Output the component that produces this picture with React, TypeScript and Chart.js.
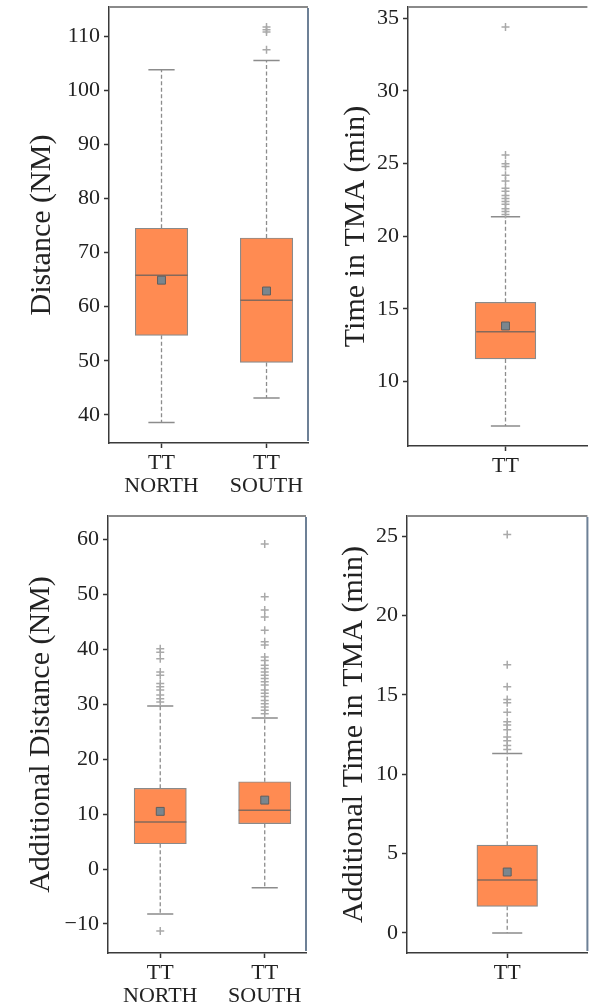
import React, { useEffect, useRef } from "react";
import { Chart, registerables } from "chart.js";

Chart.register(...registerables);

// ---------- Panel 1: Distance (NM) ----------
const distCategories = [["TT", "NORTH"], ["TT", "SOUTH"]];
const distPositions = [1, 2];
const distQ1 = [54.7, 49.7];
const distMedian = [65.8, 61.2];
const distQ3 = [74.5, 72.7];
const distLowWhisker = [38.6, 43.1];
const distHighWhisker = [103.8, 105.5];
const distMean = [64.9, 62.9];
const distOutliersNorth: number[] = [];
const distOutliersSouth = [107.5, 110.8, 111.2, 111.7];
const distTicks = [40, 50, 60, 70, 80, 90, 100, 110];

// ---------- Panel 2: Time in TMA (min) ----------
const timeCategories = [["TT"]];
const timePositions = [1];
const timeQ1 = [11.56];
const timeMedian = [13.44];
const timeQ3 = [15.46];
const timeLowWhisker = [6.95];
const timeHighWhisker = [21.35];
const timeMean = [13.83];
const timeOutliers = [21.5, 21.7, 21.9, 22.2, 22.4, 22.6, 22.8, 23.1, 23.3, 23.8, 24.2, 24.8, 25.0, 25.6, 34.4];
const timeTicks = [10, 15, 20, 25, 30, 35];

// ---------- Panel 3: Additional Distance (NM) ----------
const addDistCategories = [["TT", "NORTH"], ["TT", "SOUTH"]];
const addDistPositions = [1, 2];
const addDistQ1 = [4.6, 8.25];
const addDistMedian = [8.55, 10.7];
const addDistQ3 = [14.7, 15.9];
const addDistLowWhisker = [-8.2, -3.4];
const addDistHighWhisker = [29.7, 27.5];
const addDistMean = [10.5, 12.55];
const addDistOutliersNorth = [-11.3, 30.4, 31.0, 31.7, 32.6, 33.2, 33.8, 35.3, 35.9, 38.3, 39.5, 40.1];
const addDistOutliersSouth = [28.3, 28.9, 29.5, 30.1, 30.7, 31.4, 32.0, 32.6, 33.5, 34.1, 34.7, 35.3, 35.9, 36.5, 37.1, 38.0, 38.6, 40.8, 41.4, 43.5, 45.9, 47.2, 49.6, 59.2];
const addDistTicks = [-10, 0, 10, 20, 30, 40, 50, 60];

// ---------- Panel 4: Additional Time in TMA (min) ----------
const addTimeCategories = [["TT"]];
const addTimePositions = [1];
const addTimeQ1 = [1.68];
const addTimeMedian = [3.34];
const addTimeQ3 = [5.53];
const addTimeLowWhisker = [0];
const addTimeHighWhisker = [11.3];
const addTimeMean = [3.84];
const addTimeOutliers = [11.55, 11.8, 12.1, 12.35, 12.8, 13.1, 13.3, 13.9, 14.5, 14.7, 15.5, 16.9, 25.1];
const addTimeTicks = [0, 5, 10, 15, 20, 25];

const FONT = "'Liberation Serif', 'DejaVu Serif', serif";

type PanelCfg = {
  left: number; top: number; width: number; height: number;
  axisLeft: number; padTop: number; padRight: number; axisBottom: number;
  titlePad: number; title: string;
  categories: string[][]; positions: number[];
  q1: number[]; med: number[]; q3: number[]; lo: number[]; hi: number[]; mean: number[];
  outliers: number[][];
  yMin: number; yMax: number; yTicks: number[];
  xMin: number; xMax: number; boxWidth: number; drawRight: boolean;
};

const panels: PanelCfg[] = [
  {
    left: 0, top: 0, width: 320, height: 500,
    axisLeft: 109, padTop: 7, padRight: 12, axisBottom: 57,
    titlePad: 24.5, title: "Distance (NM)",
    categories: distCategories, positions: distPositions,
    q1: distQ1, med: distMedian, q3: distQ3, lo: distLowWhisker, hi: distHighWhisker, mean: distMean,
    outliers: [distOutliersNorth, distOutliersSouth],
    yMin: 34.8, yMax: 115.4, yTicks: distTicks,
    xMin: 0.5, xMax: 2.395, boxWidth: 0.5, drawRight: true,
  },
  {
    left: 320, top: 0, width: 274, height: 500,
    axisLeft: 88, padTop: 7, padRight: 0, axisBottom: 54,
    titlePad: 17.8, title: "Time in TMA (min)",
    categories: timeCategories, positions: timePositions,
    q1: timeQ1, med: timeMedian, q3: timeQ3, lo: timeLowWhisker, hi: timeHighWhisker, mean: timeMean,
    outliers: [timeOutliers],
    yMin: 5.57, yMax: 35.78, yTicks: timeTicks,
    xMin: 0.5, xMax: 1.42, boxWidth: 0.3, drawRight: false,
  },
  {
    left: 0, top: 500, width: 320, height: 508,
    axisLeft: 108, padTop: 16, padRight: 14, axisBottom: 55,
    titlePad: 22.8, title: "Additional Distance (NM)",
    categories: addDistCategories, positions: addDistPositions,
    q1: addDistQ1, med: addDistMedian, q3: addDistQ3, lo: addDistLowWhisker, hi: addDistHighWhisker, mean: addDistMean,
    outliers: [addDistOutliersNorth, addDistOutliersSouth],
    yMin: -15.3, yMax: 64.3, yTicks: addDistTicks,
    xMin: 0.5, xMax: 2.395, boxWidth: 0.5, drawRight: true,
  },
  {
    left: 320, top: 500, width: 274, height: 508,
    axisLeft: 87, padTop: 16, padRight: 5, axisBottom: 55,
    titlePad: 16, title: "Additional Time in TMA (min)",
    categories: addTimeCategories, positions: addTimePositions,
    q1: addTimeQ1, med: addTimeMedian, q3: addTimeQ3, lo: addTimeLowWhisker, hi: addTimeHighWhisker, mean: addTimeMean,
    outliers: [addTimeOutliers],
    yMin: -1.26, yMax: 26.26, yTicks: addTimeTicks,
    xMin: 0.5, xMax: 1.40, boxWidth: 0.3, drawRight: true,
  },
];

function buildDatasets(cfg: PanelCfg, barThickness: number): any[] {
  const half = cfg.boxWidth / 2;
  const capHalf = cfg.boxWidth / 4;
  const boxData: any[] = [];
  const whiskerData: any[] = [];
  const capData: any[] = [];
  const medianData: any[] = [];
  const meanData: any[] = [];
  const outlierData: any[] = [];
  cfg.positions.forEach((p, i) => {
    boxData.push({ x: p, y: [cfg.q1[i], cfg.q3[i]] });
    whiskerData.push({ x: p, y: cfg.q1[i] }, { x: p, y: cfg.lo[i] }, { x: p, y: null });
    whiskerData.push({ x: p, y: cfg.q3[i] }, { x: p, y: cfg.hi[i] }, { x: p, y: null });
    capData.push({ x: p - capHalf, y: cfg.lo[i] }, { x: p + capHalf, y: cfg.lo[i] }, { x: p, y: null });
    capData.push({ x: p - capHalf, y: cfg.hi[i] }, { x: p + capHalf, y: cfg.hi[i] }, { x: p, y: null });
    medianData.push({ x: p - half, y: cfg.med[i] }, { x: p + half, y: cfg.med[i] }, { x: p, y: null });
    meanData.push({ x: p, y: cfg.mean[i] });
    (cfg.outliers[i] || []).forEach((v) => outlierData.push({ x: p, y: v }));
  });
  return [
    {
      type: "bar", data: boxData, backgroundColor: "#FF8B52", borderColor: "#8a8a8a",
      borderWidth: 1.2, borderSkipped: false, barThickness, order: 6,
    },
    {
      type: "line", data: whiskerData, borderColor: "#8c8c8c", borderWidth: 1.3,
      borderDash: [4, 2.5], pointRadius: 0, fill: false, spanGaps: false, tension: 0, order: 5,
    },
    {
      type: "line", data: capData, borderColor: "#8c8c8c", borderWidth: 1.5,
      pointRadius: 0, fill: false, spanGaps: false, tension: 0, order: 4,
    },
    {
      type: "line", data: medianData, borderColor: "#85695b", borderWidth: 1.5,
      pointRadius: 0, fill: false, spanGaps: false, tension: 0, order: 3,
    },
    {
      type: "scatter", data: outlierData, pointStyle: "cross", pointRadius: 4,
      borderColor: "#a9a9a9", borderWidth: 1.5, backgroundColor: "rgba(0,0,0,0)", order: 2,
    },
    {
      type: "scatter", data: meanData, pointStyle: "rect", pointRadius: 5.6,
      backgroundColor: "#7a868e", borderColor: "#5f5f5f", borderWidth: 1, order: 1,
    },
  ];
}

function fmt(v: number): string {
  return v < 0 ? "\u2212" + Math.abs(v) : String(v);
}

function Panel({ cfg }: { cfg: PanelCfg }) {
  const ref = useRef<HTMLCanvasElement | null>(null);
  useEffect(() => {
    if (!ref.current) return;
    const chartW = cfg.width - cfg.axisLeft - cfg.padRight;
    const pxPerUnit = chartW / (cfg.xMax - cfg.xMin);
    const barThickness = cfg.boxWidth * pxPerUnit;
    const frame = {
      id: "frame",
      afterDatasetsDraw(chart: any) {
        const { ctx, chartArea: a } = chart;
        ctx.save();
        ctx.strokeStyle = "#8a8a8a";
        ctx.lineWidth = 2;
        ctx.beginPath();
        ctx.moveTo(a.left, a.top);
        ctx.lineTo(a.right, a.top);
        ctx.stroke();
        if (cfg.drawRight) {
          ctx.strokeStyle = "#6d8096";
          ctx.beginPath();
          ctx.moveTo(a.right, a.top + 1);
          ctx.lineTo(a.right, a.bottom - 2);
          ctx.stroke();
        }
        ctx.restore();
      },
    };
    const tickFont = { family: FONT, size: 22, lineHeight: 1.06 };
    const chart = new Chart(ref.current, {
      type: "bar",
      data: { datasets: buildDatasets(cfg, barThickness) },
      options: {
        responsive: false,
        animation: false,
        devicePixelRatio: 1,
        layout: { padding: { top: cfg.padTop, right: cfg.padRight, left: 0, bottom: 0 } },
        plugins: { legend: { display: false }, tooltip: { enabled: false }, title: { display: false } },
        scales: {
          x: {
            type: "linear",
            min: cfg.xMin,
            max: cfg.xMax,
            offset: false,
            afterBuildTicks: (s: any) => {
              s.ticks = cfg.positions.map((v) => ({ value: v }));
            },
            afterFit: (s: any) => {
              s.height = cfg.axisBottom;
              s.paddingLeft = 0;
              s.paddingRight = 0;
            },
            ticks: {
              autoSkip: false,
              maxRotation: 0,
              minRotation: 0,
              padding: 3.5,
              color: "#222",
              font: tickFont,
              callback: (v: any) => {
                const i = cfg.positions.indexOf(Number(v));
                return i >= 0 ? cfg.categories[i] : "";
              },
            },
            grid: {
              display: true, offset: false, drawOnChartArea: false, drawTicks: true,
              tickLength: 5, tickColor: "#333", tickWidth: 1.5,
            },
            border: { display: true, color: "#3a3a3a", width: 1.5 },
          },
          y: {
            type: "linear",
            min: cfg.yMin,
            max: cfg.yMax,
            afterBuildTicks: (s: any) => {
              s.ticks = cfg.yTicks.map((v) => ({ value: v }));
            },
            afterFit: (s: any) => {
              s.width = cfg.axisLeft;
              s.paddingTop = 0;
              s.paddingBottom = 0;
            },
            title: {
              display: true,
              text: cfg.title,
              color: "#222",
              font: { family: FONT, size: 30, lineHeight: 1.2 },
              padding: { top: cfg.titlePad, bottom: 0 },
            },
            ticks: {
              padding: 4,
              color: "#222",
              font: { family: FONT, size: 22, lineHeight: 1.2 },
              callback: (v: any) => fmt(Number(v)),
            },
            grid: {
              display: true, drawOnChartArea: false, drawTicks: true,
              tickLength: 5, tickColor: "#333", tickWidth: 1.5,
            },
            border: { display: true, color: "#3a3a3a", width: 1.5 },
          },
        },
      } as any,
      plugins: [frame],
    } as any);
    return () => chart.destroy();
  }, [cfg]);
  return (
    <canvas
      ref={ref}
      width={cfg.width}
      height={cfg.height}
      style={{ position: "absolute", left: cfg.left, top: cfg.top, width: cfg.width, height: cfg.height }}
    />
  );
}

export default function App() {
  return (
    <div style={{ position: "absolute", left: 0, top: 0, width: 594, height: 1008, background: "#fff", overflow: "hidden" }}>
      {panels.map((p, i) => (
        <Panel key={i} cfg={p} />
      ))}
    </div>
  );
}
